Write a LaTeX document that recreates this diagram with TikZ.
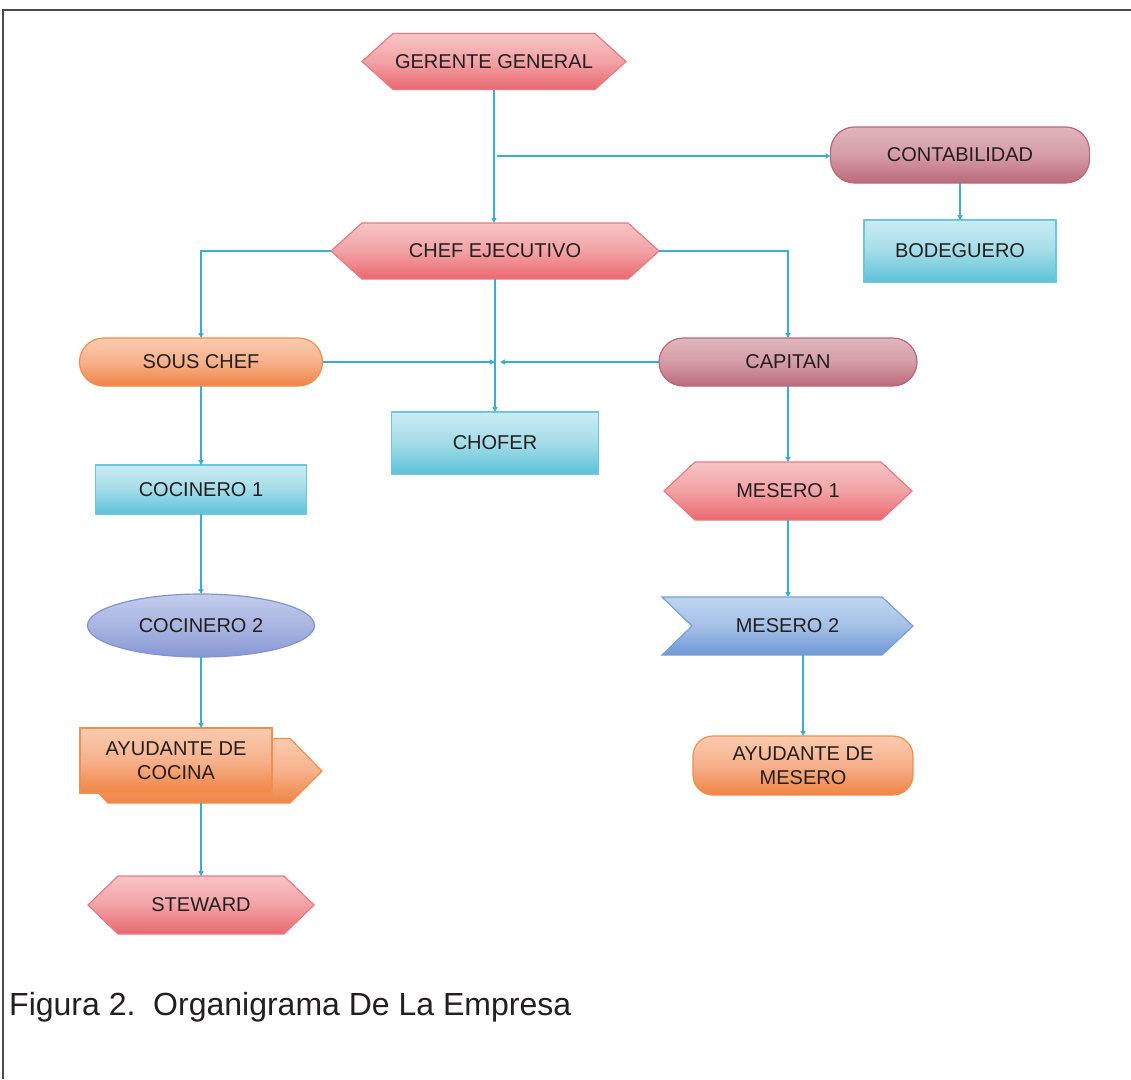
\documentclass[tikz,border=0pt]{standalone}
\usepackage{fontspec}
\setmainfont{Liberation Sans}
\usetikzlibrary{arrows.meta,shapes.geometric}
\definecolor{txt}{HTML}{231F20}
\definecolor{lineC}{HTML}{3AAED0}
\definecolor{frameC}{HTML}{4A4A4A}
\definecolor{pinkT}{HTML}{F7C4C6}\definecolor{pinkM}{HTML}{F2A2A6}\definecolor{pinkBo}{HTML}{E9686E}\definecolor{pinkB}{HTML}{E97A80}
\definecolor{mauT}{HTML}{E0B6BD}\definecolor{mauM}{HTML}{D49CA6}\definecolor{mauBo}{HTML}{BC6A7A}\definecolor{mauB}{HTML}{B8687A}
\definecolor{bluT}{HTML}{CBEBF3}\definecolor{bluM}{HTML}{A3DCE8}\definecolor{bluBo}{HTML}{5CC2DA}\definecolor{bluB}{HTML}{6CC7DD}
\definecolor{orT}{HTML}{FACBB0}\definecolor{orM}{HTML}{F7B18B}\definecolor{orBo}{HTML}{EF8444}\definecolor{orB}{HTML}{F08E50}
\definecolor{lavT}{HTML}{C3CCEC}\definecolor{lavM}{HTML}{A9B5E1}\definecolor{lavBo}{HTML}{8898D5}\definecolor{lavB}{HTML}{8293D2}
\definecolor{chT}{HTML}{C0D5EF}\definecolor{chM}{HTML}{A4C0E6}\definecolor{chBo}{HTML}{6F98D6}\definecolor{chB}{HTML}{789FD8}
\tikzset{
  lbl/.style={inner sep=0pt, outer sep=0pt, text=txt, font=\fontsize{20}{24.5}\selectfont, align=center},
  pinkfill/.style={draw=pinkB, line width=1.2, top color=pinkT, bottom color=pinkBo, middle color=pinkM},
  maufill/.style={draw=mauB, line width=1.2, top color=mauT, bottom color=mauBo, middle color=mauM},
  blufill/.style={draw=bluB, line width=1.2, top color=bluT, bottom color=bluBo, middle color=bluM},
  orfill/.style={draw=orB, line width=1.2, top color=orT, bottom color=orBo, middle color=orM},
  lavfill/.style={draw=lavB, line width=1.2, top color=lavT, bottom color=lavBo, middle color=lavM},
  chfill/.style={draw=chB, line width=1.2, top color=chT, bottom color=chBo, middle color=chM},
  rrect/.style={rectangle, rounded corners=24},
  conn/.style={draw=lineC, line width=1.9, -{Triangle[length=5pt,width=5pt]}},
}
% style, cx, cy, half width, half height, tip depth
\newcommand{\hexshape}[6]{%
  \path[#1] (#2-#4,#3) -- (#2-#4+#6,#3-#5) -- (#2+#4-#6,#3-#5) -- (#2+#4,#3)
    -- (#2+#4-#6,#3+#5) -- (#2-#4+#6,#3+#5) -- cycle;}
\begin{document}
\begin{tikzpicture}[x=1pt,y=-1pt]
\useasboundingbox (0,0) rectangle (1131,1079);
% frame
\draw[frameC, line width=1.5] (3,1079) -- (3,10) -- (1131,10);

% GERENTE GENERAL
\hexshape{pinkfill}{494}{61.5}{132}{28}{31}
\node[lbl, minimum width=264, minimum height=56] (gg) at (494,61.5) {GERENTE GENERAL};
% CONTABILIDAD
\node[lbl, rrect, maufill, minimum width=259, minimum height=56] (cont) at (960,155) {CONTABILIDAD};
% BODEGUERO
\node[lbl, blufill, minimum width=192, minimum height=62] (bod) at (960,251) {BODEGUERO};
% CHEF EJECUTIVO
\hexshape{pinkfill}{495}{251}{164}{28}{31}
\node[lbl, minimum width=328, minimum height=56] (ce) at (495,251) {CHEF EJECUTIVO};
% SOUS CHEF
\node[lbl, rrect, orfill, minimum width=243, minimum height=48] (sc) at (201,362) {SOUS CHEF};
% CAPITAN
\node[lbl, rrect, maufill, minimum width=258, minimum height=48] (cap) at (788,362) {CAPITAN};
% CHOFER
\node[lbl, blufill, minimum width=207, minimum height=62] (ch) at (495,443) {CHOFER};
% COCINERO 1
\node[lbl, blufill, minimum width=211, minimum height=49] (c1) at (201,489.5) {COCINERO 1};
% MESERO 1
\hexshape{pinkfill}{788}{491}{124}{29}{31}
\node[lbl, minimum width=248, minimum height=58] (m1) at (788,491) {MESERO 1};
% COCINERO 2
\node[lbl, ellipse, lavfill, minimum width=227, minimum height=63] (c2) at (201,625.5) {COCINERO 2};
% MESERO 2 (chevron)
\path[chfill] (662,597) -- (882,597) -- (913,626) -- (882,655) -- (662,655) -- (692,626) -- cycle;
\node[lbl, minimum width=251, minimum height=58] (m2) at (787.5,626) {MESERO 2};
% AYUDANTE DE COCINA
\path[orfill] (108,803) -- (90,784) -- (90,738.5) -- (290,738.5) -- (322,771) -- (290,803) -- cycle;
\coordinate (aycb) at (201,803);
\node[lbl, orfill, minimum width=192, minimum height=65] (ayc) at (176,760.5) {AYUDANTE DE\\COCINA};
% AYUDANTE DE MESERO
\node[lbl, rectangle, rounded corners=20, orfill, minimum width=220, minimum height=59] (aym) at (803,765.5) {AYUDANTE DE\\MESERO};
% STEWARD
\hexshape{pinkfill}{201}{905}{113}{29}{30}
\node[lbl, minimum width=226, minimum height=58] (st) at (201,905) {STEWARD};

% connectors
\coordinate (j1) at (497,156);
\coordinate (j2) at (495,362);
\coordinate (j3) at (500,362);
\draw[conn] (gg.south) -- (gg.south |- ce.north);
\draw[conn] (j1) -- (j1 -| cont.west);
\draw[conn] (cont.south) -- (bod.north);
\draw[conn] (ce.west) -| (sc.north);
\draw[conn] (ce.east) -| (cap.north);
\draw[conn] (ce.south) -- (ce.south |- ch.north);
\draw[conn] (sc.east) -- (j2);
\draw[conn] (cap.west) -- (j3);
\draw[conn] (sc.south) -- (sc.south |- c1.north);
\draw[conn] (c1.south) -- (c1.south |- c2.north);
\draw[conn] (c2.south) -- (c2.south |- ayc.north);
\draw[conn] (st.north |- aycb) -- (st.north);
\draw[conn] (cap.south) -- (cap.south |- m1.north);
\draw[conn] (m1.south) -- (m1.south |- m2.north);
\draw[conn] (aym.north |- m2.south) -- (aym.north);

% caption
\node[anchor=west, inner sep=0pt, text=txt, font=\fontsize{32}{38}\selectfont] (cap2) at (9,1007) {Figura 2.\ \ Organigrama De La Empresa};
\end{tikzpicture}
\end{document}
